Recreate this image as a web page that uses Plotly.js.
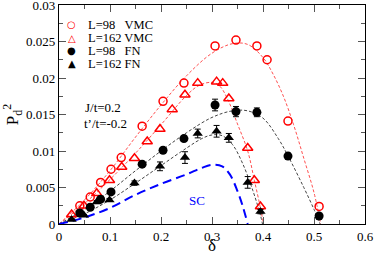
<!DOCTYPE html>
<html><head><meta charset="utf-8">
<script src="https://cdn.plot.ly/plotly-3.0.1.min.js"></script>
<style>body{margin:0;padding:0;background:#fff}#c{width:374px;height:254px}</style>
</head><body><div id="c"></div>
<script>
// VMC L=98
const vmc98X = [0.0408,0.0612,0.0816,0.102,0.122,0.163,0.204,0.245,0.306,0.347,0.388,0.408,0.449,0.510];
const vmc98Y = [0.0025,0.0037,0.0057,0.0075,0.0091,0.0134,0.0168,0.0193,0.0244,0.0252,0.0244,0.0225,0.0141,0.0024];
// VMC L=162
const vmc162X = [0.0247,0.049,0.074,0.099,0.123,0.148,0.173,0.198,0.222,0.247,0.272,0.309,0.321,0.333,0.370,0.383,0.395];
const vmc162Y = [0.0013,0.0025,0.0042,0.0060,0.0078,0.0090,0.0113,0.0130,0.0157,0.0177,0.0193,0.0195,0.0193,0.0172,0.0104,0.0060,0.0024];
// FN L=98
const fn98X = [0.0408,0.0612,0.0816,0.102,0.163,0.204,0.245,0.306,0.347,0.388,0.449,0.510];
const fn98Y = [0.0015,0.0023,0.0034,0.0044,0.0082,0.0101,0.0117,0.0163,0.0154,0.0153,0.0093,0.0011];
const fn98Err = [0.0001,0.0001,0.0002,0.0002,0.0003,0.0003,0.0004,0.0008,0.0007,0.0006,0.0004,0.0002];
// FN L=162
const fn162X = [0.0247,0.049,0.074,0.099,0.148,0.198,0.247,0.272,0.309,0.333,0.370,0.395];
const fn162Y = [0.0006,0.0012,0.0030,0.0033,0.0056,0.0079,0.0091,0.0124,0.0127,0.0118,0.0057,0.0017];
const fn162Err = [0.0001,0.0001,0.0002,0.0002,0.0003,0.0006,0.0008,0.0006,0.0008,0.0006,0.0008,0.0003];
// fit curves
const fitVmc98X = [0,0.05,0.10,0.15,0.20,0.25,0.30,0.34,0.37,0.40,0.42,0.44,0.46,0.48,0.50,0.513];
const fitVmc98Y = [0,0.0033,0.0073,0.0119,0.0163,0.0203,0.0234,0.0247,0.0246,0.0228,0.0205,0.0175,0.0136,0.0090,0.0043,0];
const fitVmc162X = [0,0.05,0.10,0.15,0.20,0.25,0.275,0.30,0.315,0.33,0.35,0.37,0.383,0.395,0.401];
const fitVmc162Y = [0,0.0028,0.0061,0.0097,0.0136,0.0176,0.0190,0.0194,0.0189,0.0172,0.0137,0.0100,0.0060,0.0022,0];
const fitFn98X = [0,0.05,0.10,0.15,0.20,0.25,0.30,0.34,0.37,0.40,0.43,0.45,0.48,0.50,0.512];
const fitFn98Y = [0,0.0020,0.0045,0.0073,0.0100,0.0125,0.0146,0.0155,0.0155,0.0145,0.0117,0.0092,0.0050,0.0020,0];
const fitFn162X = [0,0.05,0.10,0.15,0.20,0.25,0.28,0.30,0.32,0.34,0.36,0.38,0.395,0.399];
const fitFn162Y = [0,0.0014,0.0033,0.0056,0.0080,0.0104,0.0117,0.0122,0.0121,0.0109,0.0083,0.0046,0.0012,0];
// SC curve
const scX = [0,0.05,0.10,0.15,0.20,0.25,0.28,0.30,0.32,0.335,0.35,0.36,0.37];
const scY = [0,0.0009,0.0022,0.0040,0.0055,0.0068,0.0077,0.0081,0.0079,0.0068,0.0045,0.0025,0];

const xTicks = [0,0.1,0.2,0.3,0.4,0.5,0.6];
const xTickText = ['0','0.1','0.2','0.3','0.4','0.5','0.6'];
const yTicks = [0,0.005,0.01,0.015,0.02,0.025,0.03];
const yTickText = ['0','0.005','0.01','0.015','0.02','0.025','0.03'];

const legendLabels = ['L=98\u00a0\u00a0\u00a0VMC','L=162 VMC','L=98\u00a0\u00a0\u00a0FN','L=162 FN'];
const legendGlyphs = ['\u25CB','\u25B3','\u25CF','\u25B2'];
const legendColors = ['#ff0000','#ff0000','#000000','#000000'];

const serif = '"Liberation Serif", "Times New Roman", Times, serif';
const RED = '#ff0000';

const traces = [
  {x: fitVmc98X, y: fitVmc98Y, mode:'lines', line:{color:'#ff5050', width:1, dash:'3px,2px', shape:'spline'}, hoverinfo:'skip'},
  {x: fitVmc162X, y: fitVmc162Y, mode:'lines', line:{color:'#ff5050', width:1, dash:'3px,2px', shape:'spline'}, hoverinfo:'skip'},
  {x: fitFn98X, y: fitFn98Y, mode:'lines', line:{color:'#444', width:1, dash:'3px,2px', shape:'spline'}, hoverinfo:'skip'},
  {x: fitFn162X, y: fitFn162Y, mode:'lines', line:{color:'#444', width:1, dash:'3px,2px', shape:'spline'}, hoverinfo:'skip'},
  {x: scX, y: scY, mode:'lines', line:{color:'#0000ff', width:2, dash:'9px,5px', shape:'spline'}, hoverinfo:'skip'},
  {x: vmc98X, y: vmc98Y, mode:'markers', name:'L=98 VMC', marker:{symbol:'circle-open', size:8, color:RED, line:{width:1.5, color:RED}}},
  {x: vmc162X, y: vmc162Y, mode:'markers', name:'L=162 VMC', marker:{symbol:'triangle-up-open', size:9, color:RED, line:{width:1.5, color:RED}}},
  {x: fn98X, y: fn98Y, mode:'markers', name:'L=98 FN', marker:{symbol:'circle', size:9, color:'#000'},
    error_y:{type:'data', array: fn98Err, visible:true, color:'#000', thickness:1, width:3}},
  {x: fn162X, y: fn162Y, mode:'markers', name:'L=162 FN', marker:{symbol:'triangle-up', size:9, color:'#000'},
    error_y:{type:'data', array: fn162Err, visible:true, color:'#000', thickness:1, width:3}}
];

const annotations = [
  {x:0.047, y:0.0160, xref:'x', yref:'y', text:'J/t=0.2', showarrow:false, xanchor:'left', yanchor:'middle', font:{family:serif, size:13, color:'#000'}},
  {x:0.045, y:0.01375, xref:'x', yref:'y', text:"t\u2019/t=-0.2", showarrow:false, xanchor:'left', yanchor:'middle', font:{family:serif, size:13, color:'#000'}},
  {x:0.27, y:0.0032, xref:'x', yref:'y', text:'SC', showarrow:false, xanchor:'center', yanchor:'middle', font:{family:serif, size:13, color:'#0000ff'}},
  {x:0.5, y:-0.097, xref:'paper', yref:'paper', text:'\u03b4', showarrow:false, xanchor:'center', yanchor:'middle', font:{family:serif, size:17, color:'#000'}}
];
const legY = [0.909, 0.849, 0.790, 0.731];
for (let i = 0; i < legendLabels.length; i++) {
  annotations.push({x:0.042, y:legY[i], xref:'paper', yref:'paper', text:legendGlyphs[i], showarrow:false, xanchor:'center', yanchor:'middle', font:{family:'DejaVu Sans', size:10, color:legendColors[i]}});
  annotations.push({x:0.088, y:legY[i], xref:'paper', yref:'paper', text:legendLabels[i], showarrow:false, xanchor:'left', yanchor:'middle', font:{family:serif, size:12.5, color:'#000'}});
}

const axisCommon = {
  showgrid:false, zeroline:false, showline:true, linecolor:'#000', linewidth:1.2, mirror:'ticks',
  ticks:'inside', ticklen:7, tickwidth:1, tickcolor:'#555', ticklabeloverflow:'allow',
  tickfont:{family:serif, size:13, color:'#000'}
};

const layout = {
  width:374, height:254,
  margin:{l:59, r:9, t:5, b:30},
  paper_bgcolor:'#fff', plot_bgcolor:'#fff',
  showlegend:false,
  font:{family:serif},
  xaxis: Object.assign({}, axisCommon, {range:[0,0.6], tickvals:xTicks, ticktext:xTickText,
    minor:{dtick:0.05, ticks:'inside', ticklen:4, tickcolor:'#555'}}),
  yaxis: Object.assign({}, axisCommon, {range:[0,0.03000001], tickvals:yTicks, ticktext:yTickText,
    minor:{dtick:0.0025, ticks:'inside', ticklen:4, tickcolor:'#555'},
    title:{text:'P<sub>d</sub><sup>2</sup>', font:{family:serif, size:17, color:'#000'}, standoff:8}}),
  annotations: annotations
};

Plotly.newPlot('c', traces, layout, {staticPlot:true, displayModeBar:false});
</script></body></html>
